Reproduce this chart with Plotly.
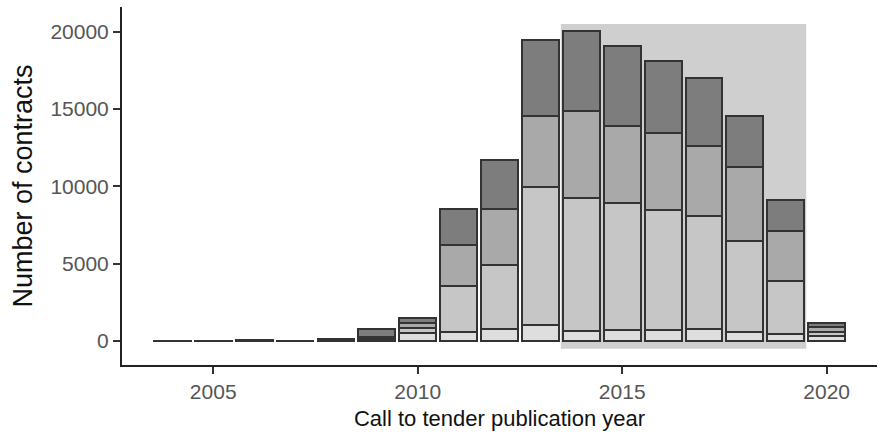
import plotly.graph_objects as go

years = list(range(2004, 2021))
# stacked layers, bottom (lightest) to top (darkest)
layer1 = [0, 0, 10, 0, 30, 120, 500, 580, 750, 1010, 650, 700, 690, 800, 600, 430, 300]
layer2 = [0, 0, 10, 0, 30, 60, 320, 2970, 4150, 8950, 8600, 8200, 7760, 7270, 5850, 3420, 280]
layer3 = [0, 0, 10, 0, 30, 60, 370, 2640, 3640, 4560, 5650, 5000, 5000, 4540, 4780, 3290, 300]
layer4 = [30, 30, 20, 30, 70, 560, 320, 2350, 3180, 4950, 5150, 5150, 4680, 4390, 3330, 1960, 310]

highlight_years = [2013.5, 2019.5]
highlight_counts = [-500, 20500]

x_ticks = [2005, 2010, 2015, 2020]
y_ticks = [0, 5000, 10000, 15000, 20000]

colors = ["#dedede", "#c6c6c6", "#a9a9a9", "#7d7d7d"]

fig = go.Figure()
for vals, col in zip([layer1, layer2, layer3, layer4], colors):
    fig.add_trace(go.Bar(
        x=years, y=vals, width=0.9,
        marker=dict(color=col, line=dict(color="#333333", width=2)),
        showlegend=False,
    ))

fig.add_shape(type="rect", xref="x", yref="y",
              x0=highlight_years[0], x1=highlight_years[1],
              y0=highlight_counts[0], y1=highlight_counts[1],
              fillcolor="#cfcfcf", line=dict(width=0), layer="below")

fig.update_layout(
    barmode="stack",
    width=882, height=436,
    margin=dict(l=122, r=5, t=7, b=71),
    plot_bgcolor="white", paper_bgcolor="white",
    font=dict(family="Liberation Sans, Arial, sans-serif"),
)
fig.update_xaxes(
    range=[2002.77, 2021.23], tickvals=x_ticks, ticktext=[str(t) for t in x_ticks],
    showline=True, linecolor="#222222", linewidth=2, ticks="outside", ticklen=7,
    tickwidth=1.5, tickcolor="#333333", showgrid=False, zeroline=False,
    tickfont=dict(size=21, color="#555555"),
    title=dict(text="Call to tender publication year", font=dict(size=22, color="#111111"), standoff=8),
)
fig.update_yaxes(
    range=[-1550, 21600], tickvals=y_ticks, ticktext=[str(t) for t in y_ticks],
    showline=True, linecolor="#222222", linewidth=2, ticks="outside", ticklen=7,
    tickwidth=1.5, tickcolor="#333333", showgrid=False, zeroline=False,
    tickfont=dict(size=21, color="#555555"),
    title=dict(text="Number of contracts", font=dict(size=27, color="#111111"), standoff=10),
)

fig.write_html("out.html",
               config={"displayModeBar": False},
               post_script="document.body.style.margin='0';document.body.style.padding='0';document.body.style.overflow='hidden';")
